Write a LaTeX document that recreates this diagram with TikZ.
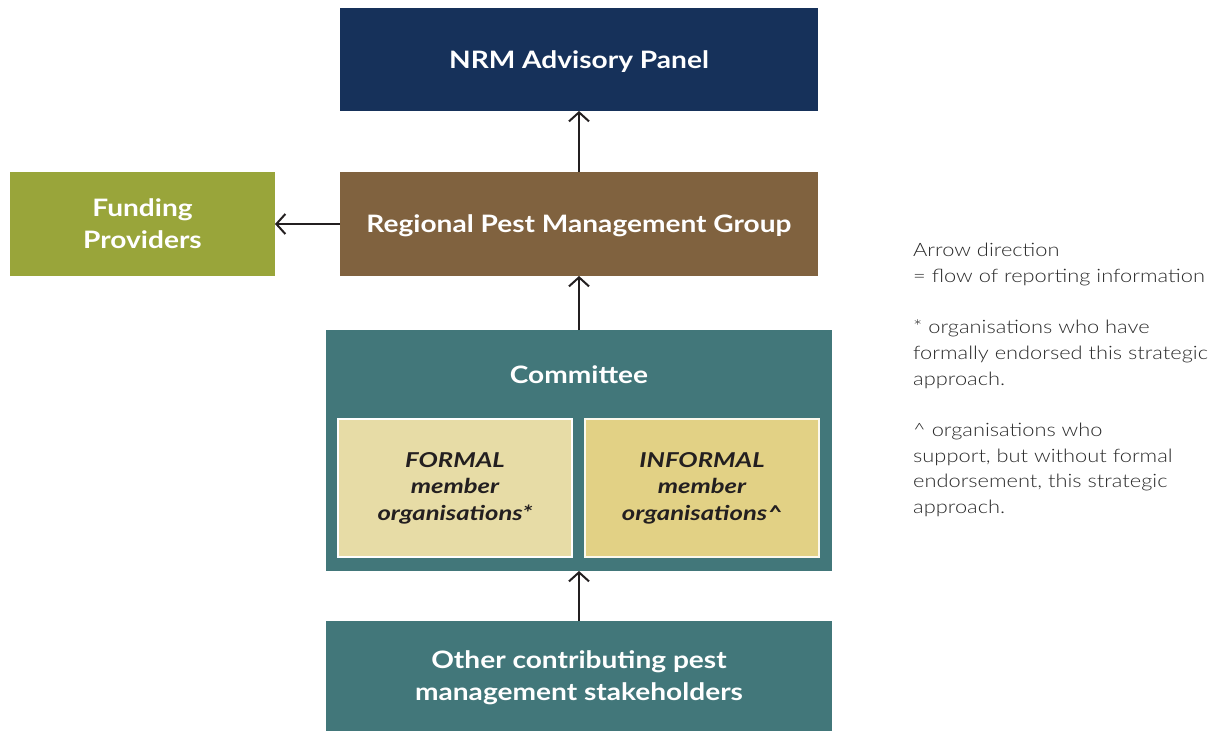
\documentclass[tikz,border=0pt]{standalone}
\usepackage{fontspec}
\setmainfont{Lato}
\newfontfamily\boxfont[FakeStretch=1.17]{Lato}
\newfontfamily\memberfont[FakeStretch=1.25]{Lato}
\newfontfamily\legendfont[FakeStretch=1.18]{Lato Light}
\usetikzlibrary{arrows.meta}
\definecolor{navy}{HTML}{16315A}
\definecolor{brownbox}{HTML}{80623F}
\definecolor{olivebox}{HTML}{99A53A}
\definecolor{tealbox}{HTML}{42777A}
\definecolor{formalfill}{HTML}{E7DCA6}
\definecolor{informalfill}{HTML}{E2D185}
\definecolor{inkline}{HTML}{231F20}
\definecolor{legendtext}{HTML}{2A2A2A}
\begin{document}
\begin{tikzpicture}[x=1pt,y=-1pt,
  box/.style={anchor=north west, inner sep=0pt, outer sep=0pt, align=center,
    text depth=0pt, text=white, font=\boxfont\fontsize{24}{32}\selectfont\bfseries},
  member/.style={anchor=north west, inner sep=0pt, outer sep=0pt, align=center,
    draw=white, line width=2pt, text=inkline,
    font=\memberfont\fontsize{20.5}{26.5}\selectfont\bfseries\itshape},
  flow/.style={draw=inkline, line width=2pt,
    -{Straight Barb[length=9pt,width=20pt,line width=2pt]}}]
\useasboundingbox (0,0) rectangle (1226,731);
% main hierarchy
\node[box, fill=navy, minimum width=478pt, minimum height=103pt] (nrm) at (340,8) {NRM Advisory Panel};
\node[box, fill=brownbox, minimum width=478pt, minimum height=104pt] (rpmg) at (340,172) {Regional Pest Management Group};
\node[box, fill=olivebox, minimum width=265pt, minimum height=104pt] (fund) at (10,172) {Funding\\Providers};
\node[box, fill=tealbox, minimum width=506pt, minimum height=241pt] (comm) at (326,330) {};
\node[box, anchor=center] (commtitle) at (579,375) {Committee};
\node[member, fill=formalfill, minimum width=234pt, minimum height=138pt] (formal) at (338,419) {FORMAL\\member\\organisations*};
\node[member, fill=informalfill, draw=white!85!informalfill, minimum width=234pt, minimum height=138pt] (informal) at (585,419) {INFORMAL\\member\\organisations\^{}};
\node[box, fill=tealbox, minimum width=506pt, minimum height=110pt] (other) at (326,621) {Other contributing pest\\management stakeholders};
% reporting arrows
\draw[flow] (rpmg.north) -- (nrm.south);
\draw[flow] (comm.north) -- (rpmg.south);
\draw[flow] (other.north) -- (comm.south);
\draw[flow] (rpmg.west) -- (fund.east);
% legend
\node[anchor=north west, inner sep=0pt, align=left, text=legendtext,
  font=\legendfont\fontsize{18.5}{25.7}\selectfont] (legend) at (913,243)
  {Arrow direction\\= flow of reporting information\\[25.7pt]
   * organisations who have\\formally endorsed this strategic\\approach.\\[25.7pt]
   \^{} organisations who\\support, but without formal\\endorsement, this strategic\\approach.};
\end{tikzpicture}
\end{document}
